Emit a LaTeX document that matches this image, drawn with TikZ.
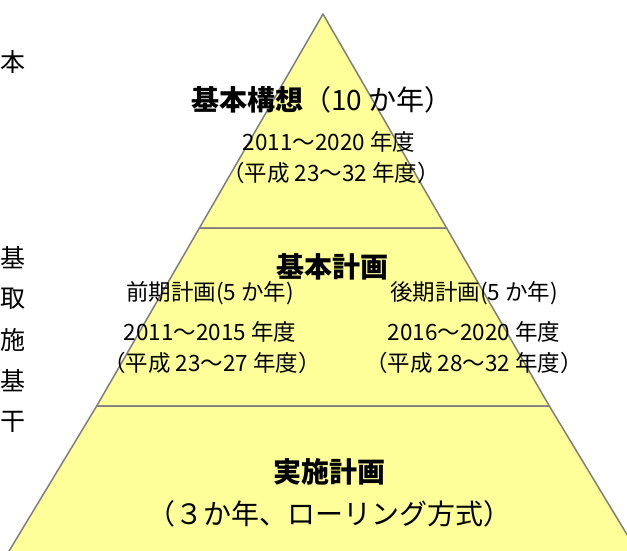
\documentclass[tikz,border=0pt]{standalone}
\usepackage{fontspec}
\setmainfont{Noto Sans CJK JP}
\usepackage{tikz}
\usetikzlibrary{positioning}
\definecolor{pyramidfill}{HTML}{FFFF99}
\definecolor{pyramidline}{HTML}{7F7F7F}

\begin{document}
\begin{tikzpicture}[
    x=1pt, y=-1pt,
    node distance=31pt,
    layer/.style={
		fill=pyramidfill,
		draw=pyramidline,
		line width=1.5pt,
		line join=round
	},
	heading/.style={
		inner sep=0pt,
		font=\fontsize{28}{32}\selectfont
	},
	term/.style={
		inner sep=0pt,
		font=\fontsize{22.5}{26}\selectfont
	},
	margintext/.style={
		inner sep=0pt,
		font=\fontsize{25}{29}\selectfont
	}
  ]

 \useasboundingbox (0,0) rectangle (627,550);
 \clip (0,0) rectangle (627,550);

% // The pyramid
 \draw [layer] (323,14) -- (446.6,228) -- (199.4,228) -- cycle;
 \draw [layer] (199.4,228) -- (446.6,228) -- (549.3,406) -- (96.7,406) -- cycle;
 \draw [layer] (96.7,406) -- (549.3,406) -- (646,566) -- (0,566) -- cycle;

% // Top: vision
 \node [heading] (vision) at (322,100) {\textbf{基本構想}（10 か年）};
 \node [term, below of=vision, yshift=-11pt, xshift=7pt] (visionspan) {2011～2020 年度};
 \node [term, below of=visionspan, xshift=2pt] (visionera) {（平成 23～32 年度）};

% // Middle: basic plan
 \node [heading] (plan) at (332,267) {\textbf{基本計画}};
 \node [term] (early) at (210,293) {前期計画(5 か年)};
 \node [term, below of=early, yshift=-8pt] (earlyspan) {2011～2015 年度};
 \node [term, below of=earlyspan, xshift=2pt] (earlyera) {（平成 23～27 年度）};
 \node [term] (late) at (474,293) {後期計画(5 か年)};
 \node [term, below of=late, yshift=-8pt] (latespan) {2016～2020 年度};
 \node [term, below of=latespan] (lateera) {（平成 28～32 年度）};

% // Bottom: action plan
 \node [heading] (action) at (329,472) {\textbf{実施計画}};
 \node [heading, below of=action, yshift=-11pt] (actionmode) {（３か年、ローリング方式）};

% // Text at the left margin
 \node [margintext] (side1) at (12.5,62) {本};
 \node [margintext, node distance=41pt] (side2) at (12.5,258) {基};
 \node [margintext, node distance=41pt, below of=side2] (side3) {取};
 \node [margintext, node distance=41pt, below of=side3] (side4) {施};
 \node [margintext, node distance=41pt, below of=side4] (side5) {基};
 \node [margintext, node distance=41pt, below of=side5] (side6) {干};

\end{tikzpicture}
\end{document}
